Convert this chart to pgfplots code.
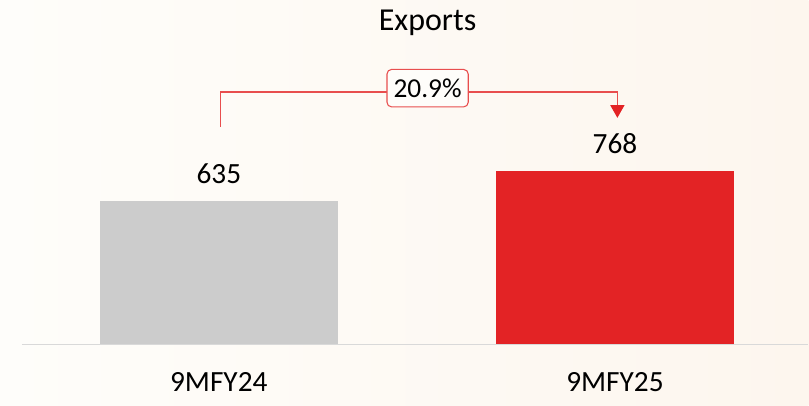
\documentclass[border=0pt]{standalone}
\usepackage{pgfplots}
\pgfplotsset{compat=1.18}
\usepackage{fontspec}
\setmainfont{Carlito}
\usetikzlibrary{arrows.meta}
\definecolor{barred}{RGB}{227,35,37}
\definecolor{bargray}{RGB}{204,204,204}
\definecolor{callred}{RGB}{232,78,78}
\definecolor{baseln}{RGB}{217,217,217}
\definecolor{bgleft}{RGB}{254,253,250}
\definecolor{bgright}{RGB}{253,246,238}

\begin{document}
\begin{tikzpicture}
\begin{axis}[
    scale only axis,
    width=606.75pt, height=304.5pt,
    xmin=-0.5523, xmax=1.488,
    ymin=-269, ymax=1521,
    hide axis,
    clip=false,
    axis background/.style={shade, left color=bgleft, right color=bgright},
    bar width=0.6,
    /pgf/number format/assume math mode=true,
    nodes near coords,
    every node near coord/.append style={font=\fontsize{22}{26}\selectfont, text=black, anchor=south, inner sep=0pt, yshift=12.5pt},
]
\addplot[ybar, fill=bargray, draw=none] coordinates {(0,635)};
\addplot[ybar, fill=barred, draw=none] coordinates {(1,768)};

\draw[baseln, line width=1pt] (axis cs:-0.497,0) -- (axis cs:1.488,0);

% callout
\draw[callred, line width=1pt, -{Triangle[width=10.5pt, length=9.5pt, color=barred]}]
    (axis cs:0.005,961) -- (axis cs:0.005,1115) -- (axis cs:1.006,1115) -- (axis cs:1.006,1001);
\node[draw=callred, line width=0.8pt, fill=bgleft, rounded corners=3.5pt, inner xsep=5pt, inner ysep=7pt,
      font=\fontsize{20.5}{24}\selectfont] at (axis cs:0.527,1132) {20.9\%};

\node[font=\fontsize{24}{28}\selectfont] at (axis cs:0.527,1420) {Exports};
\node[font=\fontsize{22}{26}\selectfont] at (axis cs:0,-163) {9MFY24};
\node[font=\fontsize{22}{26}\selectfont] at (axis cs:1,-163) {9MFY25};
\end{axis}
\end{tikzpicture}
\end{document}
